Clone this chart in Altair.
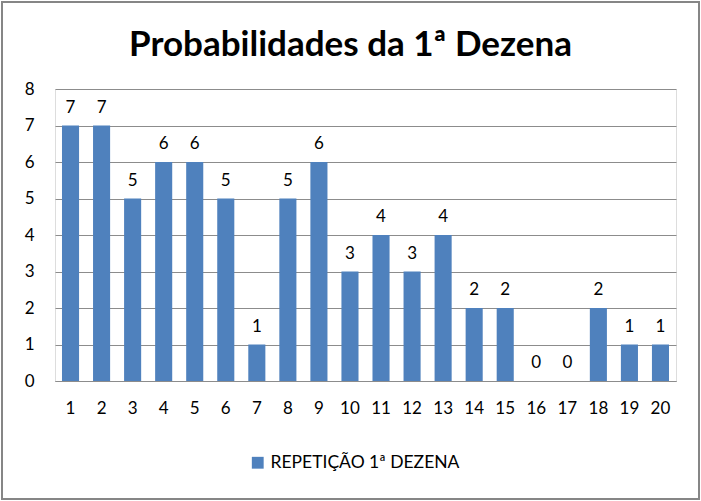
import altair as alt
import pandas as pd

categories = [str(i) for i in range(1, 21)]
values = [7, 7, 5, 6, 6, 5, 1, 5, 6, 3, 4, 3, 4, 2, 2, 0, 0, 2, 1, 1]
series_name = "REPETIÇÃO 1ª DEZENA"
title_text = "Probabilidades da 1ª Dezena"
y_ticks = [0, 1, 2, 3, 4, 5, 6, 7, 8]

df = pd.DataFrame({"cat": categories, "val": values, "serie": [series_name] * len(values)})
tdf = pd.DataFrame({"t": [title_text]})

FONT = "Lato"
BLUE = "#4F81BD"
GRID = "#8C8C8C"

W, H = 621, 292
PADL, PADT, PADR, PADB = 55, 89, 25, 120

x_axis = alt.Axis(labelAngle=0, labelFont=FONT, labelFontSize=17, labelColor="#000",
                  ticks=False, domainColor=GRID, domainWidth=1, labelPadding=19,
                  labelOverlap=False)
y_axis = alt.Axis(values=y_ticks, tickCount=20, format="d", labelFont=FONT, labelFontSize=17,
                  labelColor="#000", ticks=False, domain=False, gridColor=GRID, gridWidth=1,
                  labelPadding=21, labelOverlap=False, labelFlush=False)
x_scale = alt.Scale(paddingInner=0.45, paddingOuter=0.225)
y_scale = alt.Scale(domain=[0, 8], nice=False)

bars = alt.Chart(df).mark_bar(color=BLUE).encode(
    x=alt.X("cat:N", sort=categories, title=None, scale=x_scale, axis=x_axis),
    y=alt.Y("val:Q", title=None, scale=y_scale, axis=y_axis),
    color=alt.Color("serie:N", scale=alt.Scale(range=[BLUE]),
                    legend=alt.Legend(title=None, orient="none", legendX=194, legendY=365,
                                      labelFont=FONT, labelFontSize=17.5, labelColor="#000",
                                      labelLimit=0,
                                      symbolType="square", symbolSize=140, symbolStrokeWidth=0)),
)

labels = alt.Chart(df).mark_text(font=FONT, fontSize=17, color="#000", baseline="bottom", dy=-9).encode(
    x=alt.X("cat:N", sort=categories, title=None, scale=x_scale, axis=x_axis),
    y=alt.Y("val:Q", title=None, scale=y_scale, axis=y_axis),
    text="val:Q",
)

title = alt.Chart(tdf).mark_text(font=FONT, fontSize=35, fontWeight="bold", color="#000",
                                 align="center", baseline="middle", clip=False).encode(
    x=alt.value(W / 2 - 15), y=alt.value(-44), text="t:N"
)

border = alt.Chart(df).mark_rect(fill=None, stroke="#868686", strokeWidth=2, clip=False).encode(
    x=alt.value(-PADL + 2), x2=alt.value(W + PADR - 2),
    y=alt.value(-PADT + 2), y2=alt.value(H + PADB - 2),
)

chart = alt.layer(bars, labels, title, border).properties(
    width=W, height=H,
    autosize=alt.AutoSizeParams(type="none"),
    padding={"left": PADL, "top": PADT, "right": PADR, "bottom": PADB},
).configure_view(stroke=None).configure(background="white")

chart.save("out.html", embed_options={"renderer": "svg", "actions": False})
